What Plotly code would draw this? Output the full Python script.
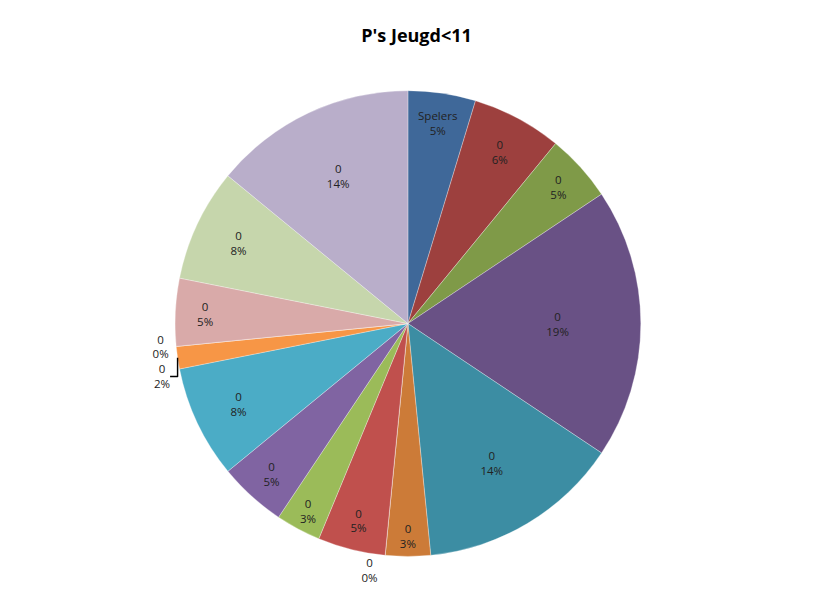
import plotly.graph_objects as go

# categories as shown on the chart (Excel series with empty names -> "0")
names = ["Spelers", "0", "0", "0", "0", "0", "0", "0",
         "0", "0", "0", "0", "0", "0", "0", "0"]
counts = [3, 4, 3, 12, 9, 2, 0, 3, 2, 3, 5, 1, 0, 3, 5, 9]
colors = ["#3F6899", "#9D403E", "#7F9A48", "#695185", "#3C8DA3", "#CC7B38",
          "#4F81BD", "#C0504D", "#9BBB59", "#8064A2", "#4BACC6", "#F79646",
          "#A9BCDB", "#D9AAA9", "#C6D6AC", "#B9AECA"]

ids = [f"s{i}" for i in range(len(counts))]
# tiny / empty slices get their label outside, like the original
positions = ["outside" if c <= 1 else "inside" for c in counts]
txtcol = ["#222222"] * len(counts)

fig = go.Figure(go.Pie(
    labels=ids, values=counts, text=names,
    textinfo="text+percent", texttemplate="%{text}<br>%{percent:.0%}",
    textposition=positions, insidetextorientation="horizontal",
    sort=False, direction="clockwise", rotation=0,
    marker=dict(colors=colors, line=dict(color="rgba(255,255,255,0.5)", width=0.6)),
    textfont=dict(family="Open Sans", size=11.5, color=txtcol),
    insidetextfont=dict(family="Open Sans", size=11.5, color=txtcol),
    outsidetextfont=dict(family="Open Sans", size=11.5, color=txtcol),
    showlegend=False, hoverinfo="skip",
    domain=dict(x=[0.204, 0.775], y=[0.098, 0.864]),
))

fig.update_layout(
    width=817, height=608, paper_bgcolor="white", plot_bgcolor="white",
    margin=dict(l=0, r=0, t=0, b=0),
    title=dict(text="<b>P's Jeugd<11</b>", x=0.5, xanchor="center", y=0.955, yanchor="middle",
               font=dict(family="Open Sans", size=18, color="black")),
)

fig.write_html("out.html")
